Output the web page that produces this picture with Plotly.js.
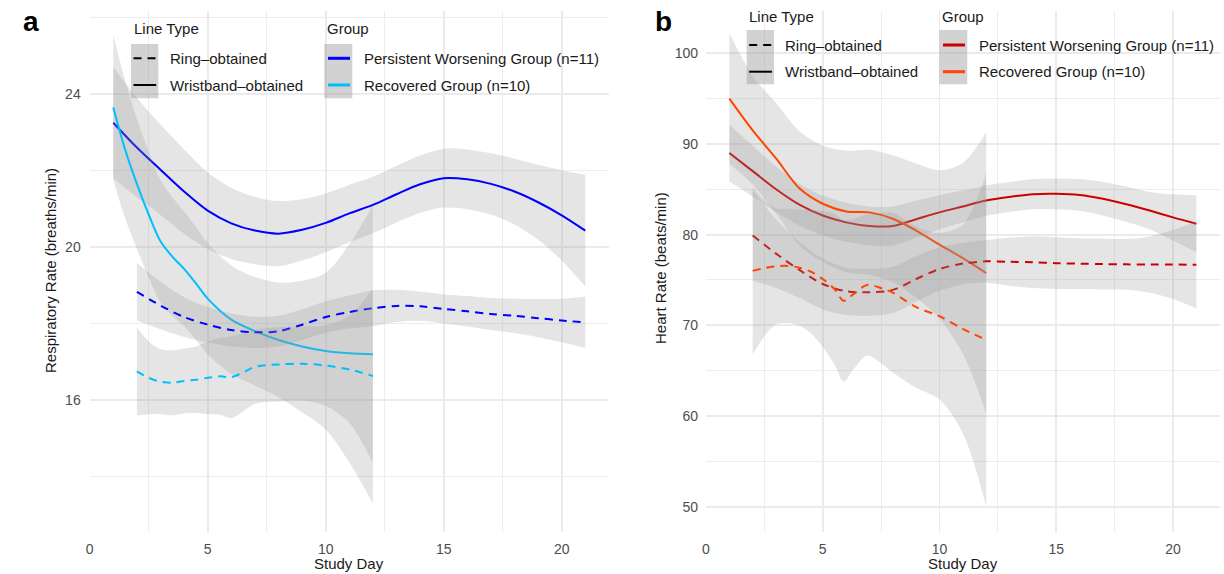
<!DOCTYPE html>
<html>
<head>
<meta charset="utf-8">
<script src="https://cdn.plot.ly/plotly-3.0.1.min.js"></script>
<style>
html,body{margin:0;padding:0;background:#ffffff;}
#chart{width:1224px;height:574px;}
</style>
</head>
<body>
<div id="chart"></div>
<script>
// ---------------- Panel a : Respiratory Rate (breaths/min) ----------------
const rrDaysPWWrist = [1,2,3,4,5,6,7,8,9,10,11,12,13,14,15,16,17,18,19,20,21];
const rrPWWrist     = [23.25,22.6,22.02,21.45,20.95,20.62,20.43,20.35,20.45,20.63,20.88,21.1,21.38,21.64,21.8,21.77,21.65,21.45,21.17,20.83,20.43];
const rrPWWristCI   = [1.46,1.3,1.18,1.1,1.0,0.93,0.88,0.85,0.8,0.77,0.75,0.74,0.74,0.75,0.77,0.78,0.8,0.86,0.98,1.18,1.46];

const rrDaysRecWrist = [1,1.5,2,2.5,3,3.5,4,4.5,5,6,7,8,9,10,11,12];
const rrRecWrist     = [23.65,22.55,21.65,20.85,20.15,19.75,19.43,19.05,18.65,18.1,17.8,17.57,17.4,17.28,17.22,17.2];
const rrRecWristCI   = [1.9,1.8,1.7,1.65,1.6,1.55,1.5,1.48,1.45,1.42,1.42,1.5,1.72,2.05,2.85,3.9];

const rrDaysPWRing = [2,3,4,5,6,7,8,9,10,11,12,13,14,15,16,17,18,19,20,21];
const rrPWRing     = [18.83,18.47,18.17,17.97,17.83,17.77,17.8,17.97,18.17,18.3,18.4,18.46,18.45,18.38,18.32,18.25,18.2,18.14,18.08,18.03];
const rrPWRingCI   = [0.75,0.62,0.52,0.46,0.43,0.41,0.4,0.4,0.41,0.43,0.47,0.42,0.38,0.38,0.4,0.42,0.45,0.5,0.57,0.67];

const rrDaysRecRing = [2,2.5,3,3.5,4,4.5,5,5.5,6,6.5,7,8,9,10,11,12];
const rrRecRing     = [16.75,16.58,16.48,16.45,16.5,16.53,16.58,16.62,16.6,16.72,16.87,16.93,16.95,16.9,16.8,16.63];
const rrRecRingCI   = [1.15,0.95,0.85,0.85,0.85,0.87,0.95,1.0,1.07,1.02,0.97,0.97,0.97,1.05,1.4,2.27];

// ---------------- Panel b : Heart Rate (beats/min) ----------------
const hrDaysPWWrist = [1,2,3,4,5,6,7,8,9,10,11,12,13,14,15,16,17,18,19,20,21];
const hrPWWrist     = [89.0,87.0,85.0,83.3,82.1,81.35,80.95,80.95,81.7,82.45,83.1,83.75,84.15,84.45,84.5,84.37,83.95,83.35,82.65,81.9,81.2];
const hrPWWristCI   = [3.15,2.8,2.5,2.3,2.2,2.15,2.15,2.15,2.05,1.9,1.75,1.67,1.65,1.65,1.7,1.75,1.85,1.95,2.05,2.55,3.15];

const hrDaysRecWrist = [1,2,3,4,5,6,7,8,9,10,11,12];
const hrRecWrist     = [95.0,91.5,88.4,85.1,83.4,82.55,82.45,81.75,80.45,78.9,77.4,75.75];
const hrRecWristCI   = [7.2,6.0,6.1,6.3,6.4,6.7,6.9,7.0,7.4,8.2,10.5,15.5];

const hrDaysPWRing = [2,3,4,5,6,7,8,9,10,11,12,13,14,15,16,17,18,19,20,21];
const hrPWRing     = [79.9,77.9,76.1,74.55,73.75,73.65,73.9,75.1,76.2,76.8,77.05,77.0,76.95,76.85,76.8,76.75,76.72,76.7,76.7,76.67];
const hrPWRingCI   = [5.0,3.8,3.1,2.8,2.6,2.6,2.55,2.5,2.4,2.3,2.35,2.65,2.85,2.85,2.8,2.8,2.8,3.1,3.8,4.8];

const hrDaysRecRing = [2,2.5,3,3.5,4,4.5,5,5.5,5.9,6.3,6.9,7.6,8,9,10,11,12];
const hrRecRing     = [76.0,76.3,76.5,76.55,76.35,75.9,75.1,74.0,72.7,73.4,74.45,74.0,73.6,72.0,71.0,69.6,68.4];
const hrRecRingCI   = [9.2,7.5,6.4,6.3,6.4,6.8,7.5,8.3,8.9,8.3,7.8,8.4,8.8,8.9,9.2,11.5,18.4];

// ---------------- ticks and labels ----------------
const dayTicks = [0,5,10,15,20];
const dayMinor = [2.5,7.5,12.5,17.5];
const rrTicks = [16,20,24];
const rrMinor = [14,18,22,26];
const hrTicks = [50,60,70,80,90,100];
const hrMinor = [55,65,75,85,95];
const lineTypeLabels = ['Ring\u2013obtained','Wristband\u2013obtained'];
const groupLabels = ['Persistent Worsening Group (n=11)','Recovered Group (n=10)'];
const colorsA = {pw:'#0000FF', rec:'#00BFFF'};
const colorsB = {pw:'#CD0000', rec:'#FF4500'};

// ---------------- build ----------------
const W = 1224, H = 574;
const FONT = 'Liberation Sans, Arial, Helvetica, sans-serif';
const RIBBON = 'rgba(153,153,153,0.25)';
const traces = [];

function smooth(xs, ys, ci, color, dash, xa, ya) {
  const lo = ys.map((v,i)=>v-ci[i]);
  const hi = ys.map((v,i)=>v+ci[i]);
  const common = {xaxis:xa, yaxis:ya, hoverinfo:'skip', showlegend:false, mode:'lines'};
  traces.push(Object.assign({x:xs, y:lo, line:{width:0, shape:'spline', smoothing:0.9}}, common));
  traces.push(Object.assign({x:xs, y:hi, fill:'tonexty', fillcolor:RIBBON, line:{width:0, shape:'spline', smoothing:0.9}}, common));
  traces.push(Object.assign({x:xs, y:ys, line:{color:color, width:2, dash:dash, shape:'spline', smoothing:0.9}}, common));
}
const DASH = '8px,6px';
// panel a
smooth(rrDaysPWWrist, rrPWWrist, rrPWWristCI, colorsA.pw, 'solid', 'x', 'y');
smooth(rrDaysRecWrist, rrRecWrist, rrRecWristCI, colorsA.rec, 'solid', 'x', 'y');
smooth(rrDaysPWRing, rrPWRing, rrPWRingCI, colorsA.pw, DASH, 'x', 'y');
smooth(rrDaysRecRing, rrRecRing, rrRecRingCI, colorsA.rec, DASH, 'x', 'y');
// panel b
smooth(hrDaysPWWrist, hrPWWrist, hrPWWristCI, colorsB.pw, 'solid', 'x2', 'y2');
smooth(hrDaysRecWrist, hrRecWrist, hrRecWristCI, colorsB.rec, 'solid', 'x2', 'y2');
smooth(hrDaysPWRing, hrPWRing, hrPWRingCI, colorsB.pw, DASH, 'x2', 'y2');
smooth(hrDaysRecRing, hrRecRing, hrRecRingCI, colorsB.rec, DASH, 'x2', 'y2');

const GRID = '#ebebeb';
function axis(extra) {
  return Object.assign({
    showgrid:true, gridcolor:GRID, gridwidth:1.8, zeroline:false, showline:false,
    ticks:'', tickfont:{family:FONT, size:14, color:'#4d4d4d'}, tickmode:'array',
    fixedrange:true
  }, extra);
}
const yDom = [1-532/H, 1-11/H];

const layout = {
  width:W, height:H, margin:{l:0,r:0,t:0,b:0},
  paper_bgcolor:'#ffffff', plot_bgcolor:'#ffffff', showlegend:false,
  font:{family:FONT, color:'#1a1a1a'},
  xaxis: axis({domain:[89.7/W, 608.9/W], range:[0,22], anchor:'y', tickvals:dayTicks, ticktext:dayTicks.map(String), ticklabelstandoff:7,
    minor:{tickmode:'array', tickvals:dayMinor, showgrid:true, gridcolor:GRID, gridwidth:0.9, ticks:''}}),
  yaxis: axis({domain:yDom, range:[12.55, 26.17], anchor:'x', tickvals:rrTicks, ticktext:rrTicks.map(String), ticklabelstandoff:8,
    minor:{tickmode:'array', tickvals:rrMinor, showgrid:true, gridcolor:GRID, gridwidth:0.9, ticks:''}}),
  xaxis2: axis({domain:[706/W, 1219.7/W], range:[0,22], anchor:'y2', tickvals:dayTicks, ticktext:dayTicks.map(String), ticklabelstandoff:7,
    minor:{tickmode:'array', tickvals:dayMinor, showgrid:true, gridcolor:GRID, gridwidth:0.9, ticks:''}}),
  yaxis2: axis({domain:yDom, range:[47.2, 104.66], anchor:'x2', tickvals:hrTicks, ticktext:hrTicks.map(String), ticklabelstandoff:7,
    minor:{tickmode:'array', tickvals:hrMinor, showgrid:true, gridcolor:GRID, gridwidth:0.9, ticks:''}}),
  annotations:[], shapes:[]
};

function ann(px, py, text, o) {
  o = o || {};
  layout.annotations.push({
    xref:'paper', yref:'paper', x:px/W, y:1-py/H, text:text, showarrow:false,
    xanchor:o.xanchor||'left', yanchor:'middle', textangle:o.angle||0,
    font:{family:FONT, size:o.size||15, color:o.color||'#1a1a1a'}
  });
}
function rect(x0,y0,x1,y1,fill) {
  layout.shapes.push({type:'rect', xref:'paper', yref:'paper', x0:x0/W, x1:x1/W, y0:1-y1/H, y1:1-y0/H,
    fillcolor:fill, line:{width:0}, layer:'above'});
}
function seg(x0,x1,y,color,width,dash) {
  layout.shapes.push({type:'line', xref:'paper', yref:'paper', x0:x0/W, x1:x1/W, y0:1-y/H, y1:1-y/H,
    line:{color:color, width:width, dash:dash||'solid'}, layer:'above'});
}

// axis titles
ann(349, 563, 'Study Day', {xanchor:'center', size:15});
ann(963, 563, 'Study Day', {xanchor:'center', size:15});
ann(50, 271, 'Respiratory Rate (breaths/min)', {xanchor:'center', angle:-90, size:15});
ann(661, 268, 'Heart Rate (beats/min)', {xanchor:'center', angle:-90, size:15});
// panel letters
ann(31, 21, '<b>a</b>', {xanchor:'center', size:28, color:'#000000'});
ann(663, 21, '<b>b</b>', {xanchor:'center', size:28, color:'#000000'});

// legends
const KEY = 'rgba(153,153,153,0.44)';
function legend(ltX, grX, titleY, keyTop, rowY, cols) {
  ann(ltX, titleY, 'Line Type');
  ann(grX, titleY, 'Group');
  rect(ltX-0.7, keyTop, ltX+26.6, keyTop+54.3, KEY);
  rect(grX-0.7, keyTop, grX+27.3, keyTop+54.3, KEY);
  seg(ltX+1.8, ltX+24.5, rowY[0], '#000000', 2, '8px,6px');
  seg(ltX+1.8, ltX+24.5, rowY[1], '#000000', 2);
  seg(grX+3, grX+25, rowY[0], cols.pw, 3);
  seg(grX+3, grX+25, rowY[1], cols.rec, 3);
  ann(ltX+36, rowY[0], lineTypeLabels[0]);
  ann(ltX+36, rowY[1], lineTypeLabels[1]);
  ann(grX+36.7, rowY[0], groupLabels[0]);
  ann(grX+36.7, rowY[1], groupLabels[1]);
}
legend(131.7, 325, 28.3, 44, [58.3, 85], colorsA);
legend(747.4, 940, 17, 30, [45, 71.7], colorsB);

Plotly.newPlot('chart', traces, layout, {staticPlot:true, displayModeBar:false});
</script>
</body>
</html>
